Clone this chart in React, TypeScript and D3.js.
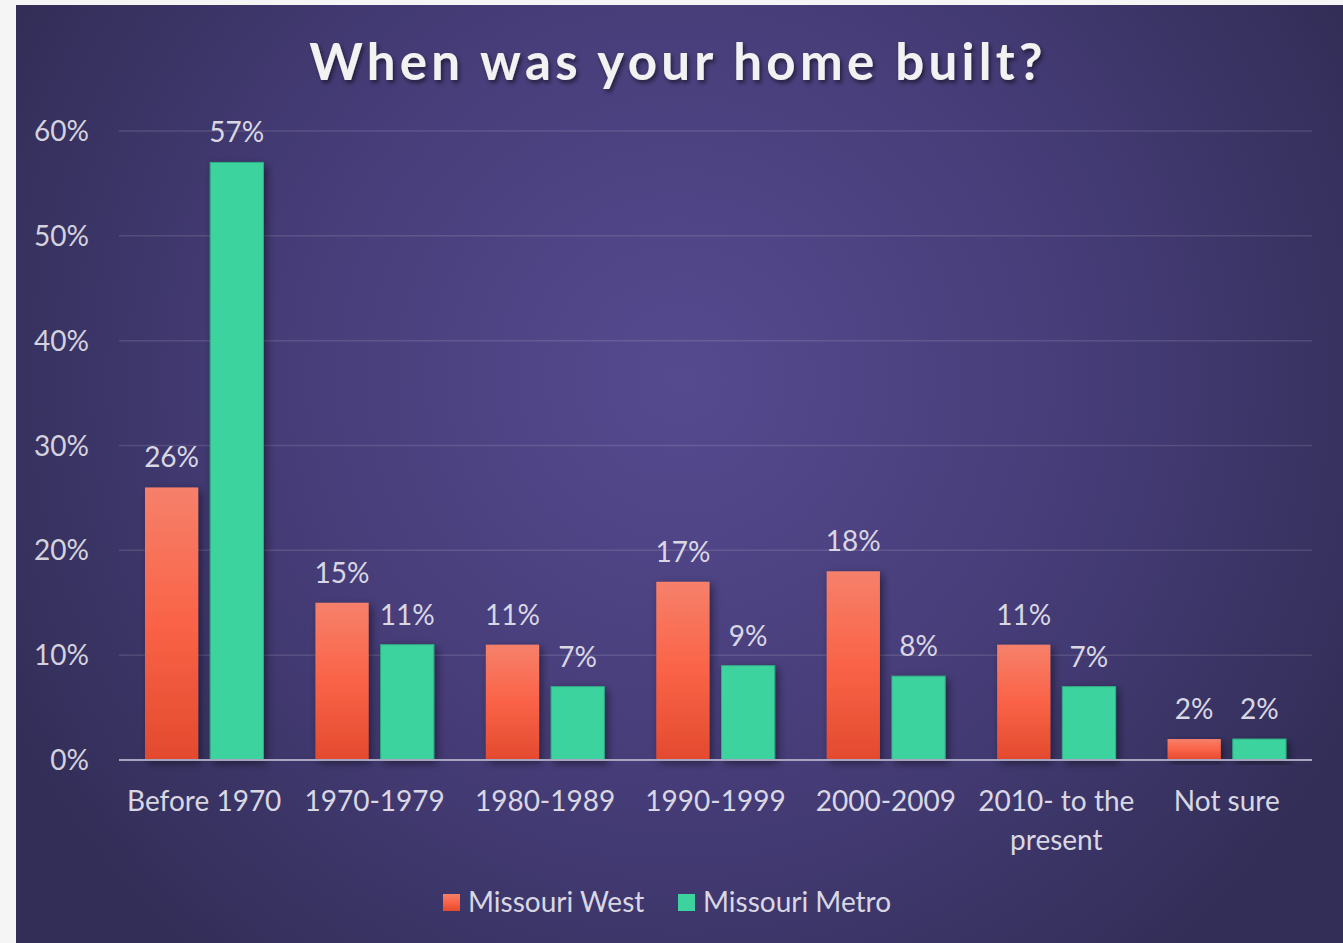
import React from "react";
import * as d3 from "d3";

const categories = ["Before 1970", "1970-1979", "1980-1989", "1990-1999", "2000-2009", "2010- to the present", "Not sure"];
const categoryLines = [["Before 1970"], ["1970-1979"], ["1980-1989"], ["1990-1999"], ["2000-2009"], ["2010- to the", "present"], ["Not sure"]];
const seriesNames = ["Missouri West", "Missouri Metro"];
const missouriWest = [26, 15, 11, 17, 18, 11, 2];
const missouriMetro = [57, 11, 7, 9, 8, 7, 2];
const yTicks = [0, 10, 20, 30, 40, 50, 60];

const W = 1343;
const H = 943;
const plotLeft = 119;
const plotRight = 1312;
const yTop = 131;
const yBottom = 760;
const FONT = "Lato, 'Open Sans', sans-serif";

export default function App() {
  const x0 = d3.scaleBand<string>().domain(categories).range([plotLeft, plotRight]).paddingInner(0.305).paddingOuter(0.1525);
  const y = d3.scaleLinear().domain([0, 60]).range([yBottom, yTop]);
  const gap = 12;
  const bw = (x0.bandwidth() - gap) / 2;
  const series = [missouriWest, missouriMetro];

  return (
    <svg width={W} height={H} style={{ position: "absolute", left: 0, top: 0, display: "block" }}>
      <defs>
        <radialGradient id="bg" cx="680" cy="380" r="760" gradientUnits="userSpaceOnUse">
          <stop offset="0" stopColor="#564a8f" />
          <stop offset="0.55" stopColor="#453c77" />
          <stop offset="1" stopColor="#322e57" />
        </radialGradient>
        <linearGradient id="westGrad" x1="0" y1="0" x2="0" y2="1">
          <stop offset="0" stopColor="#f6806a" />
          <stop offset="0.5" stopColor="#fa6347" />
          <stop offset="1" stopColor="#e34a2e" />
        </linearGradient>
        <filter id="barShadow" x="-30%" y="-10%" width="160%" height="130%">
          <feDropShadow dx="3" dy="3" stdDeviation="4" floodColor="#000" floodOpacity="0.45" />
        </filter>
        <filter id="titleShadow" x="-10%" y="-30%" width="120%" height="160%">
          <feDropShadow dx="2" dy="3" stdDeviation="2" floodColor="#000" floodOpacity="0.5" />
        </filter>
      </defs>
      <rect x={0} y={0} width={W} height={H} fill="#f5f5f5" />
      <rect x={16} y={5} width={W - 16} height={H - 5} fill="url(#bg)" />

      <text x={678} y={80} textAnchor="middle" fontFamily={FONT} fontWeight={700} fontSize={51} letterSpacing={4.3} fill="#f2f2f2" filter="url(#titleShadow)">
        When was your home built?
      </text>

      {yTicks.map((t) => (
        <g key={t}>
          {t > 0 && <line x1={plotLeft} x2={plotRight} y1={y(t)} y2={y(t)} stroke="#ffffff" strokeOpacity={0.12} strokeWidth={1.5} />}
          <text x={89} y={y(t) + 10} textAnchor="end" fontFamily={FONT} fontSize={28} fill="#d4d2de">
            {t}%
          </text>
        </g>
      ))}

      {categories.map((c, i) => (
        <g key={c}>
          {series.map((s, si) => {
            const bx = (x0(c) as number) + si * (bw + gap);
            const by = y(s[i]);
            return (
              <g key={si}>
                <rect
                  x={bx}
                  y={by}
                  width={bw}
                  height={yBottom - by}
                  fill={si === 0 ? "url(#westGrad)" : "#3dd39e"}
                  stroke={si === 0 ? "none" : "#2fae84"}
                  strokeWidth={si === 0 ? 0 : 1}
                  filter="url(#barShadow)"
                />
                <text x={bx + bw / 2} y={by - 20} textAnchor="middle" fontFamily={FONT} fontSize={28} fill="#d9d7e3">
                  {s[i]}%
                </text>
              </g>
            );
          })}
          {categoryLines[i].map((ln, li) => (
            <text key={li} x={(x0(c) as number) + x0.bandwidth() / 2} y={811 + li * 39} textAnchor="middle" fontFamily={FONT} fontSize={28} fill="#d9d7e3">
              {ln}
            </text>
          ))}
        </g>
      ))}

      <line x1={plotLeft} x2={plotRight} y1={yBottom} y2={yBottom} stroke="#a7a4c0" strokeWidth={2} />

      {seriesNames.map((n, i) => {
        const lx = i === 0 ? 443 : 678;
        return (
          <g key={n}>
            <rect x={lx} y={894} width={17} height={17} fill={i === 0 ? "url(#westGrad)" : "#3dd39e"} />
            <text x={lx + 25} y={912} fontFamily={FONT} fontSize={28} fill="#d9d7e3">
              {n}
            </text>
          </g>
        );
      })}
    </svg>
  );
}
